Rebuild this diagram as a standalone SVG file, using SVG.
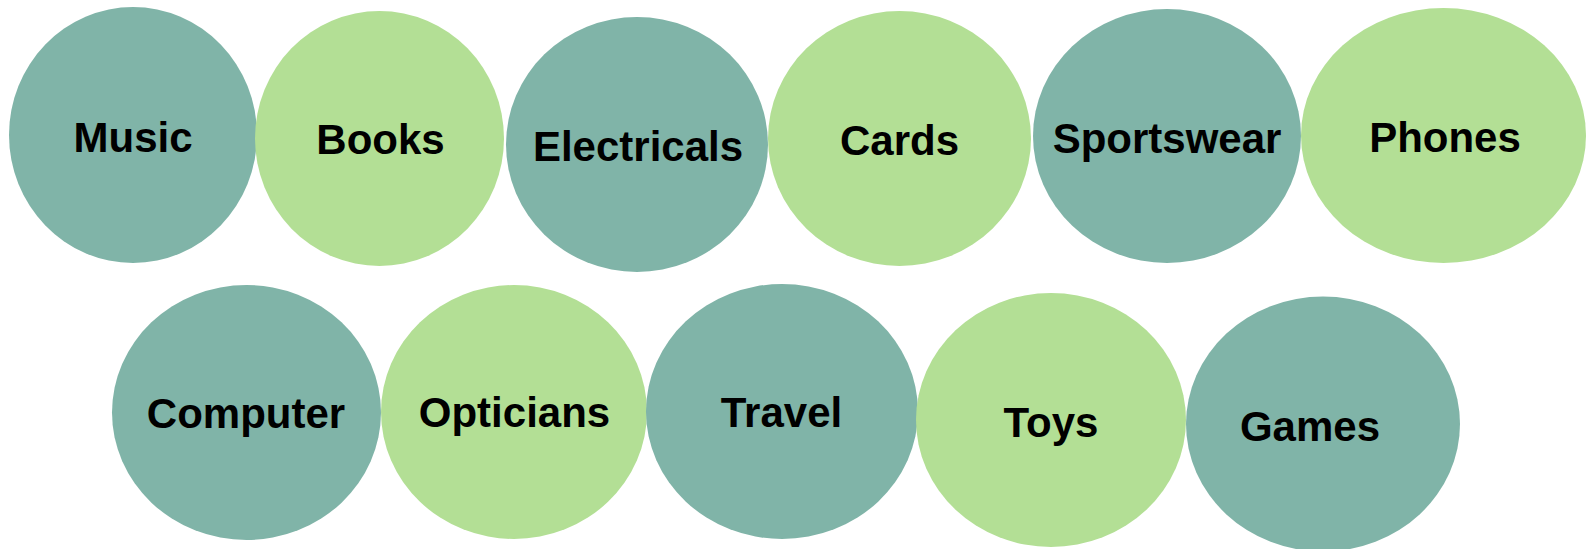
<svg xmlns="http://www.w3.org/2000/svg" width="1587" height="549" viewBox="0 0 1587 549">
  <style>
    .teal { fill: #80b4a8; }
    .lime { fill: #b3df95; }
    .label { font-family: "Liberation Sans", Arial, sans-serif; font-weight: bold; font-size: 42px; fill: #000; text-anchor: middle; }
  </style>
  <rect width="1587" height="549" fill="#ffffff"/>
  <g id="connectors"/>

  <!-- top row -->
  <g id="music"><ellipse class="teal" cx="133" cy="135" rx="124" ry="128"/><text class="label" x="133" y="152">Music</text></g>
  <g id="books"><ellipse class="lime" cx="379.5" cy="138.5" rx="124.5" ry="127.5"/><text class="label" x="380.5" y="154">Books</text></g>
  <g id="electricals"><ellipse class="teal" cx="637" cy="144.5" rx="131" ry="127.5"/><text class="label" x="638" y="161">Electricals</text></g>
  <g id="cards"><ellipse class="lime" cx="899.5" cy="138.5" rx="131.5" ry="127.5"/><text class="label" x="899.5" y="155">Cards</text></g>
  <g id="sportswear"><ellipse class="teal" cx="1167" cy="136" rx="134" ry="127"/><text class="label" x="1167" y="153">Sportswear</text></g>
  <g id="phones"><ellipse class="lime" cx="1443.5" cy="135.5" rx="142.5" ry="127.5"/><text class="label" x="1445" y="152">Phones</text></g>

  <!-- bottom row -->
  <g id="computer"><ellipse class="teal" cx="246.5" cy="412.5" rx="134.5" ry="127.5"/><text class="label" x="246" y="428">Computer</text></g>
  <g id="opticians"><ellipse class="lime" cx="514" cy="412" rx="133" ry="127"/><text class="label" x="514.5" y="427">Opticians</text></g>
  <g id="travel"><ellipse class="teal" cx="782" cy="411.5" rx="136" ry="127.5"/><text class="label" x="781.5" y="427">Travel</text></g>
  <g id="toys"><ellipse class="lime" cx="1051" cy="420" rx="135" ry="127"/><text class="label" x="1051" y="437">Toys</text></g>
  <g id="games"><ellipse class="teal" cx="1323" cy="424" rx="137" ry="127.5"/><text class="label" x="1310" y="441">Games</text></g>
</svg>
